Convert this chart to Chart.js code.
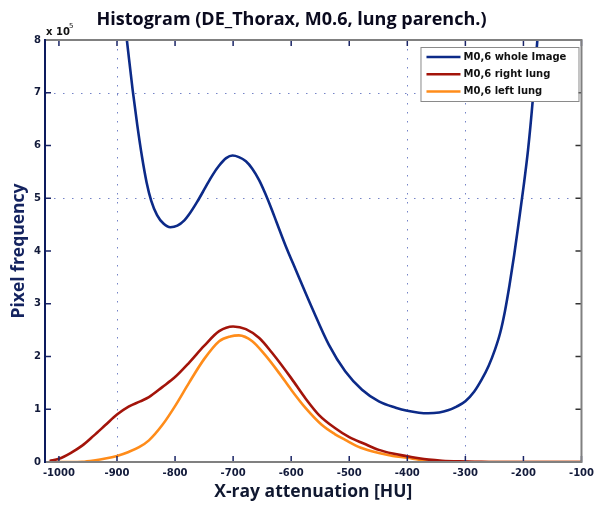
<!DOCTYPE html>
<html>
<head>
<meta charset="utf-8">
<title>Histogram (DE_Thorax, M0.6, lung parench.)</title>
<script src="https://cdn.jsdelivr.net/npm/chart.js@4.4.1/dist/chart.umd.min.js"></script>
<style>
  html, body { margin: 0; padding: 0; background: #ffffff; }
  canvas { display: block; }
</style>
</head>
<body>
<canvas id="histogram" width="599" height="506"></canvas>
<script>
// Pixel counts (in units of 10^5) against X-ray attenuation in HU.
const huWhole = [-900, -890, -883, -873, -865, -857, -849, -841, -831, -820, -808, -796, -784, -776, -762, -748, -736, -724, -712, -701, -690, -678, -667, -655, -645, -635, -625, -610, -592, -564, -535, -507, -478, -449, -420, -400, -380, -364, -345, -330, -315, -300, -285, -272, -260, -249, -240, -232, -224, -216, -208, -200, -192, -184, -176, -170];
const wholeImage = [9.6, 8.65, 8.0, 7.05, 6.38, 5.79, 5.3, 4.95, 4.68, 4.52, 4.45, 4.48, 4.58, 4.69, 4.93, 5.2, 5.43, 5.62, 5.76, 5.81, 5.78, 5.7, 5.56, 5.34, 5.1, 4.83, 4.54, 4.11, 3.64, 2.92, 2.22, 1.72, 1.37, 1.15, 1.03, 0.97, 0.935, 0.925, 0.94, 0.98, 1.05, 1.15, 1.33, 1.56, 1.82, 2.13, 2.45, 2.85, 3.35, 3.92, 4.55, 5.2, 5.92, 6.85, 8.0, 8.9];

const huRight = [-1016, -1000, -980, -960, -940, -920, -900, -880, -860, -845, -822, -800, -776, -750, -724, -700, -678, -655, -633, -600, -575, -552, -524, -500, -475, -449, -425, -400, -380, -363, -340, -310, -280, -250, -100];
const rightLung = [0.02, 0.06, 0.17, 0.31, 0.5, 0.7, 0.9, 1.05, 1.15, 1.23, 1.42, 1.61, 1.88, 2.2, 2.48, 2.57, 2.52, 2.35, 2.07, 1.59, 1.2, 0.89, 0.64, 0.47, 0.35, 0.23, 0.16, 0.11, 0.07, 0.045, 0.025, 0.012, 0.005, 0, 0];

const huLeft = [-1018, -980, -960, -940, -920, -900, -880, -862, -845, -822, -800, -776, -750, -724, -705, -690, -667, -645, -621, -600, -575, -547, -525, -507, -480, -449, -425, -400, -380, -363, -330, -300, -100];
const leftLung = [0, 0, 0.005, 0.03, 0.065, 0.115, 0.19, 0.28, 0.41, 0.7, 1.06, 1.5, 1.95, 2.29, 2.38, 2.4, 2.29, 2.03, 1.69, 1.37, 1.02, 0.7, 0.53, 0.42, 0.27, 0.17, 0.115, 0.08, 0.045, 0.025, 0.008, 0, 0];

const seriesLabels = ['M0,6 whole Image', 'M0,6 right lung', 'M0,6 left lung'];
const seriesColors = ['#0c2a88', '#a3140a', '#ff8c1a'];

const xTicks = [-1000, -900, -800, -700, -600, -500, -400, -300, -200, -100];
const yTicks = [0, 1, 2, 3, 4, 5, 6, 7, 8];
const xGrid = [-900, -400, -300];
const yGrid = [5, 7];

const toPoints = (xs, ys) => xs.map((x, i) => ({ x: x, y: ys[i] }));

const tickFont = { family: 'DejaVu Sans', size: 10, weight: 'bold' };
const labelFont = { family: 'Open Sans', size: 17.5, weight: 'bold' };

// Dotted grid, boxed frame with inward ticks, legend inside the top-right corner.
const framePlugin = {
  id: 'frame',
  beforeDatasetsDraw(chart) {
    const { ctx, chartArea: a, scales: { x, y } } = chart;
    ctx.save();
    ctx.setLineDash([1.5, 7.5]);
    ctx.strokeStyle = 'rgba(70, 90, 180, 0.75)';
    ctx.lineWidth = 1;
    xGrid.forEach(v => {
      const px = Math.round(x.getPixelForValue(v)) + 0.5;
      ctx.beginPath(); ctx.moveTo(px, a.top); ctx.lineTo(px, a.bottom); ctx.stroke();
    });
    yGrid.forEach(v => {
      const py = Math.round(y.getPixelForValue(v)) + 0.5;
      ctx.beginPath(); ctx.moveTo(a.left, py); ctx.lineTo(a.right, py); ctx.stroke();
    });
    ctx.restore();
  },
  afterDatasetsDraw(chart) {
    const { ctx, chartArea: a, scales: { x, y } } = chart;
    ctx.save();
    ctx.setLineDash([]);

    // tick marks pointing into the plot on all four sides
    ctx.lineWidth = 1.5;
    ctx.strokeStyle = '#1a2466';
    xTicks.forEach(v => {
      const px = x.getPixelForValue(v);
      ctx.beginPath(); ctx.moveTo(px, a.bottom); ctx.lineTo(px, a.bottom - 6); ctx.stroke();
      ctx.beginPath(); ctx.moveTo(px, a.top); ctx.lineTo(px, a.top + 6); ctx.stroke();
    });
    yTicks.forEach(v => {
      const py = y.getPixelForValue(v);
      ctx.strokeStyle = '#1a2466';
      ctx.beginPath(); ctx.moveTo(a.left, py); ctx.lineTo(a.left + 6, py); ctx.stroke();
      ctx.strokeStyle = '#333333';
      ctx.beginPath(); ctx.moveTo(a.right, py); ctx.lineTo(a.right - 6, py); ctx.stroke();
    });

    // frame
    ctx.lineWidth = 2;
    ctx.strokeStyle = '#808080';
    ctx.beginPath(); ctx.moveTo(a.left, a.top); ctx.lineTo(a.right, a.top); ctx.lineTo(a.right, a.bottom); ctx.lineTo(a.left, a.bottom); ctx.stroke();
    ctx.strokeStyle = '#0d1b5e';
    ctx.beginPath(); ctx.moveTo(a.left, a.top - 1); ctx.lineTo(a.left, a.bottom + 1); ctx.stroke();

    // legend
    const bw = 158, bh = 54;
    const bx = a.right - 3 - bw, by = a.top + 7;
    ctx.fillStyle = '#ffffff';
    ctx.fillRect(bx, by, bw, bh);
    ctx.lineWidth = 1;
    ctx.strokeStyle = '#8a8a8a';
    ctx.strokeRect(bx + 0.5, by + 0.5, bw, bh);
    ctx.font = 'bold 10px "DejaVu Sans"';
    ctx.textBaseline = 'middle';
    ctx.textAlign = 'left';
    chart.data.datasets.forEach((ds, i) => {
      const ry = by + 10 + i * 17.2;
      ctx.strokeStyle = ds.borderColor;
      ctx.lineWidth = 2.5;
      ctx.beginPath(); ctx.moveTo(bx + 6, ry); ctx.lineTo(bx + 40, ry); ctx.stroke();
      ctx.fillStyle = '#111111';
      ctx.fillText(ds.label, bx + 43, ry);
    });

    // exponent note above the y axis
    ctx.fillStyle = '#111111';
    ctx.textBaseline = 'alphabetic';
    ctx.font = 'bold 10px "DejaVu Sans"';
    ctx.fillText('x 10', a.left + 1, a.top - 5);
    ctx.font = '7px "DejaVu Sans"';
    ctx.fillText('5', a.left + 24, a.top - 12);
    ctx.restore();
  }
};

const lineStyle = (i) => ({
  label: seriesLabels[i],
  borderColor: seriesColors[i],
  backgroundColor: seriesColors[i],
  borderWidth: 2.6,
  pointRadius: 0,
  fill: false,
  cubicInterpolationMode: 'monotone'
});

new Chart(document.getElementById('histogram'), {
  type: 'line',
  data: {
    datasets: [
      Object.assign(lineStyle(0), { data: toPoints(huWhole, wholeImage) }),
      Object.assign(lineStyle(1), { data: toPoints(huRight, rightLung) }),
      Object.assign(lineStyle(2), { data: toPoints(huLeft, leftLung) })
    ]
  },
  options: {
    responsive: false,
    animation: false,
    layout: { padding: { left: 0, right: 16, top: 0, bottom: 0 } },
    plugins: {
      legend: { display: false },
      tooltip: { enabled: false },
      title: {
        display: true,
        text: 'Histogram (DE_Thorax, M0.6, lung parench.)',
        color: '#0a0a1e',
        font: { family: 'Open Sans', size: 18, weight: 'bold' },
        padding: { top: 9, bottom: 9.4 }
      }
    },
    scales: {
      x: {
        type: 'linear',
        min: -1024,
        max: -100,
        afterBuildTicks: (scale) => { scale.ticks = xTicks.map(v => ({ value: v })); },
        afterFit: (scale) => { scale.height = 44; },
        grid: { display: false, drawTicks: false },
        border: { display: false },
        ticks: { font: tickFont, color: '#121a3a', padding: 5, maxRotation: 0, autoSkip: false, callback: (v) => String(v) },
        title: {
          display: true,
          text: 'X-ray attenuation [HU]',
          color: '#101830',
          font: labelFont,
          padding: { top: 0, bottom: 3 }
        }
      },
      y: {
        type: 'linear',
        min: 0,
        max: 8,
        afterBuildTicks: (scale) => { scale.ticks = yTicks.map(v => ({ value: v })); },
        afterFit: (scale) => { scale.width = 45; },
        grid: { display: false, drawTicks: false },
        border: { display: false },
        ticks: { font: tickFont, color: '#121a3a', padding: 4, callback: (v) => String(v) },
        title: {
          display: true,
          text: 'Pixel frequency',
          color: '#14235f',
          font: labelFont,
          padding: { top: 9, bottom: 0 }
        }
      }
    }
  },
  plugins: [framePlugin]
});
</script>
</body>
</html>
